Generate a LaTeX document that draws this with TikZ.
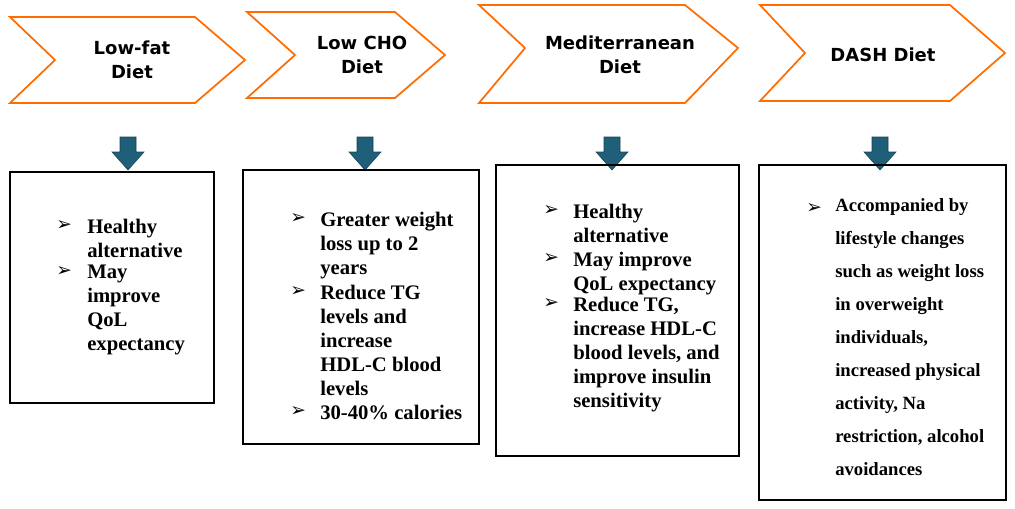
\documentclass[tikz,border=0pt]{standalone}
\usepackage{fontspec}
\setmainfont{Liberation Serif}
\newfontfamily\headfont{DejaVu Sans}
\newfontfamily\symfont{DejaVu Sans}
\definecolor{arrc}{HTML}{1F5F7A}
\begin{document}
\begin{tikzpicture}[x=0.75pt,y=-0.75pt,
  chev/.style={draw=orange!85!red,line width=1.3pt,fill=white},
  head/.style={font=\headfont\bfseries\fontsize{13.5pt}{18pt}\selectfont,align=center},
  box/.style={draw=black,line width=1pt},
  darr/.style={fill=arrc,draw=arrc!70!black},
  itm/.style={anchor=north west,inner sep=0pt,align=left,font=\bfseries\fontsize{15.5pt}{18pt}\selectfont},
  itmb/.style={anchor=north west,inner sep=0pt,align=left,font=\bfseries\fontsize{14pt}{24.75pt}\selectfont},
  bul/.style={anchor=north west,inner sep=0pt,font=\symfont\fontsize{14pt}{14pt}\selectfont}]
\useasboundingbox (0,0) rectangle (1015,508);
% chevrons
\draw[chev] (10,17)--(195,17)--(245,60)--(195,103)--(10,103)--(55,60)--cycle;
\draw[chev] (247,12)--(395,12)--(445,55)--(395,98)--(247,98)--(295,55)--cycle;
\draw[chev] (479,5)--(685,5)--(738,48)--(685,103)--(479,103)--(525,48)--cycle;
\draw[chev] (760,5)--(950,5)--(1005,53)--(950,101)--(760,101)--(805,53)--cycle;
\node[head] (h1) at (132,60) {Low-fat\\Diet};
\node[head] (h2) at (362,55) {Low CHO\\Diet};
\node[head] (h3) at (620,55) {Mediterranean\\Diet};
\node[head] (h4) at (883,55) {DASH Diet};
% arrows
\foreach \x/\n in {128/a1,365/a2,612/a3,880/a4}{
  \draw[darr] (\x-8,137)--(\x+8,137)--(\x+8,152)--(\x+16,152)--(\x,170)--(\x-16,152)--(\x-8,152)--cycle;}
% boxes
\draw[box] (10,172) rectangle (214,403);
\draw[box] (243,170) rectangle (479,444);
\draw[box] (496,165) rectangle (739,456);
\draw[box] (759,165) rectangle (1006,500);
% box 1
\node[bul] (b11) at (56,220) {➢};
\node[itm,text width=120] (t11) at (87,219) {Healthy\\alternative};
\node[bul] (b12) at (56,266) {➢};
\node[itm,text width=120] (t12) at (87,265) {May\\improve\\QoL\\expectancy};
% box 2
\node[bul] (b21) at (290,213) {➢};
\node[itm] (t21) at (320,212) {Greater weight\\loss up to 2\\years};
\node[bul] (b22) at (290,286) {➢};
\node[itm] (t22) at (320,285) {Reduce TG\\levels and\\increase\\HDL-C blood\\levels};
\node[bul] (b23) at (290,406) {➢};
\node[itm] (t23) at (320,405) {30-40\% calories};
% box 3
\node[bul] (b31) at (543,205) {➢};
\node[itm] (t31) at (573,204) {Healthy\\alternative};
\node[bul] (b32) at (543,253) {➢};
\node[itm] (t32) at (573,252) {May improve\\QoL expectancy};
\node[bul] (b33) at (543,298) {➢};
\node[itm] (t33) at (573,297) {Reduce TG,\\increase HDL-C\\blood levels, and\\improve insulin\\sensitivity};
% box 4
\node[bul] (b41) at (806,203) {➢};
\node[itmb] (t41) at (835,198) {Accompanied by\\lifestyle changes\\such as weight loss\\in overweight\\individuals,\\increased physical\\activity, Na\\restriction, alcohol\\avoidances};
\end{tikzpicture}
\end{document}
